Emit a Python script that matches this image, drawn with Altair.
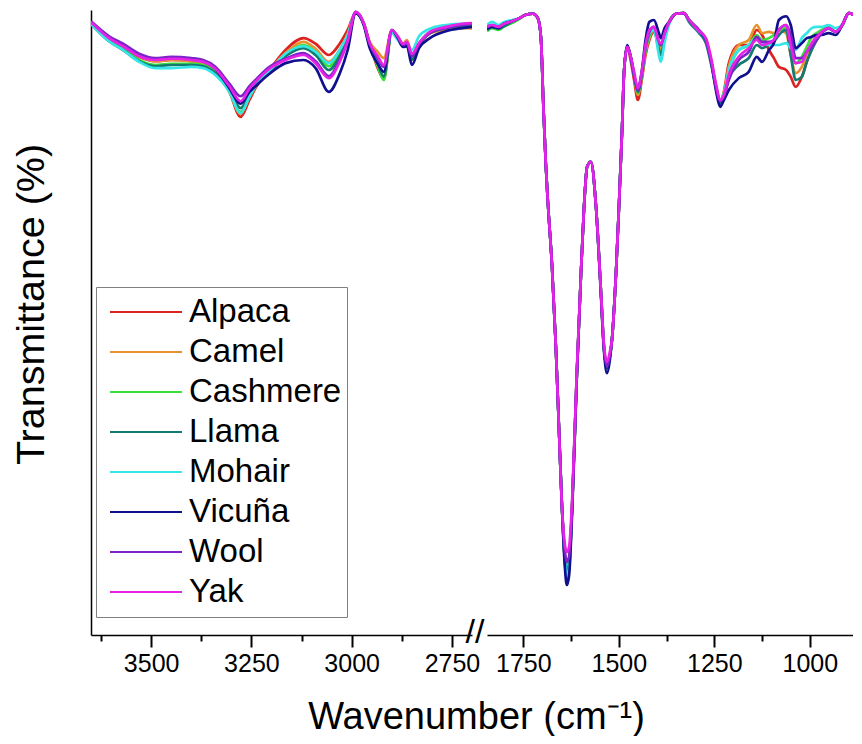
import altair as alt
import pandas as pd

FONT = "Liberation Sans"

SERIES = ["Alpaca", "Camel", "Cashmere", "Llama", "Mohair", "Vicuña", "Wool", "Yak"]
COLORS = ["#dd2222", "#e8922e", "#3adf3a", "#137a70", "#35e6e6", "#10108f", "#7d24c8", "#e622e6"]

# wavenumbers (cm-1), high-wavenumber segment
WN_HIGH = [3650, 3605, 3570, 3530, 3490, 3450, 3400, 3370, 3340, 3305, 3277, 3255, 3240, 3205,
           3165, 3120, 3090, 3057, 3030, 3010, 2990, 2970, 2955, 2935, 2920, 2900, 2885, 2872,
           2862, 2850, 2832, 2805, 2765, 2725, 2700]

ALPACA_HIGH = [97.9, 95.4, 94.1, 92.5, 91.8, 92.0, 91.8, 91.5, 90.4, 86.9, 82.9, 85.6, 87.5, 90.4,
               93.6, 95.5, 94.6, 92.8, 94.6, 96.8, 99.5, 97.8, 94.6, 90.7, 89.0, 96.5, 95.5, 94.2,
               94.6, 92.3, 94.6, 96.3, 97.1, 97.3, 97.1]
CAMEL_HIGH = [97.9, 95.4, 94.2, 92.6, 91.8, 92.0, 91.8, 91.5, 90.4, 87.0, 83.4, 86.1, 87.8, 90.4,
              93.1, 94.9, 93.8, 91.7, 93.6, 96.2, 99.5, 97.9, 94.9, 93.3, 92.3, 96.6, 95.7, 94.6,
              95.2, 93.0, 94.4, 96.3, 96.8, 97.1, 97.1]
CASHMERE_HIGH = [97.8, 95.2, 93.8, 92.0, 91.2, 91.4, 91.4, 91.2, 90.1, 87.0, 83.7, 86.2, 87.8, 90.2,
                 92.8, 94.4, 93.3, 91.0, 93.1, 95.8, 99.5, 97.8, 94.4, 91.0, 88.8, 96.5, 95.5, 94.2,
                 94.4, 92.3, 94.6, 96.5, 97.3, 97.4, 97.6]
LLAMA_HIGH = [97.8, 95.0, 93.6, 91.8, 91.0, 91.2, 91.2, 91.0, 89.9, 87.2, 84.3, 86.6, 88.0, 90.1,
              92.6, 93.9, 92.8, 90.4, 92.6, 95.5, 99.5, 97.8, 94.4, 91.4, 89.4, 96.6, 95.5, 94.2,
              94.4, 92.0, 94.4, 96.3, 97.1, 97.4, 97.6]
MOHAIR_HIGH = [97.8, 95.0, 93.6, 91.7, 90.7, 90.7, 90.9, 90.7, 89.6, 86.9, 83.5, 86.1, 87.8, 90.2,
               93.0, 94.2, 93.3, 91.5, 93.6, 96.0, 99.5, 97.8, 94.2, 92.0, 91.0, 96.3, 95.2, 94.4,
               94.6, 93.6, 95.8, 97.0, 97.6, 97.8, 97.8]
VICUNA_HIGH = [98.1, 95.7, 94.4, 92.8, 92.2, 92.3, 92.2, 91.8, 90.6, 87.5, 85.0, 86.9, 87.8, 89.8,
               91.5, 92.0, 90.7, 86.9, 89.8, 93.6, 99.5, 97.6, 93.9, 91.4, 90.1, 96.8, 95.5, 94.1,
               94.2, 91.2, 93.9, 95.5, 96.6, 97.1, 97.3]
WOOL_HIGH = [98.2, 95.8, 94.6, 93.0, 92.3, 92.5, 92.3, 92.0, 90.9, 88.2, 86.2, 87.8, 88.8, 90.9,
             92.2, 93.1, 91.8, 89.4, 92.0, 95.2, 99.7, 97.9, 94.6, 92.3, 90.9, 96.8, 95.7, 94.4,
             94.7, 92.6, 94.6, 96.3, 97.1, 97.6, 97.8]
YAK_HIGH = [98.1, 95.5, 94.2, 92.6, 92.0, 92.2, 92.0, 91.7, 90.6, 87.8, 85.4, 87.4, 88.5, 90.6,
            92.0, 92.8, 91.5, 89.1, 91.7, 95.0, 99.7, 97.9, 94.7, 92.6, 91.2, 96.8, 95.8, 94.6,
            94.9, 93.0, 94.7, 96.5, 97.3, 97.8, 97.9]

# wavenumbers (cm-1), fingerprint segment
WN_LOW = [1845, 1832, 1815, 1800, 1780, 1760, 1745, 1725, 1712, 1704,
          1697, 1691, 1686, 1675, 1665, 1657, 1649, 1641, 1636, 1630,
          1622, 1610, 1599, 1591, 1583, 1573, 1560, 1547, 1539, 1531,
          1523, 1518, 1507, 1500, 1492, 1486, 1478, 1470, 1460, 1450,
          1440, 1430, 1420, 1408, 1395, 1390, 1380, 1368, 1350, 1330,
          1316, 1290, 1272, 1259, 1245, 1235, 1225, 1212, 1186, 1160,
          1139, 1125, 1107, 1094, 1081, 1062, 1050, 1037, 1021, 1008,
          995, 982, 969, 951, 932, 915, 898, 885, 867]

ALPACA_LOW = [97.1, 97.4, 97.1, 97.8, 98.2, 98.7, 99.2, 99.4, 98.7, 95.7,
              84.0, 75.2, 69.6, 59.2, 46.4, 33.6, 20.8, 11.7, 9.1, 10.7,
              20.8, 41.6, 57.9, 68.5, 74.9, 75.7, 68.8, 55.2, 46.1, 42.9,
              44.8, 47.2, 58.4, 68.0, 80.0, 90.4, 94.1, 92.3, 88.8, 85.6,
              88.8, 92.8, 95.2, 96.5, 94.4, 93.9, 96.0, 98.1, 99.4, 99.5,
              98.4, 96.6, 95.2, 92.0, 87.5, 85.3, 86.9, 91.5, 94.4, 94.4,
              96.8, 96.0, 93.6, 92.3, 90.9, 90.4, 89.3, 87.7, 89.3, 91.7,
              94.1, 95.7, 96.5, 97.1, 96.5, 97.6, 99.5, 99.2, 98.1]
CAMEL_LOW = [97.1, 97.4, 97.1, 97.8, 98.2, 98.7, 99.2, 99.4, 98.7, 95.7,
             84.0, 75.2, 69.6, 59.2, 46.4, 33.6, 20.8, 12.0, 9.9, 11.2,
             20.8, 41.6, 57.9, 68.5, 74.9, 75.7, 68.8, 55.2, 46.1, 42.9,
             44.8, 47.2, 58.4, 68.0, 80.0, 90.4, 94.1, 92.8, 89.6, 86.4,
             89.3, 93.3, 95.5, 96.8, 94.4, 93.6, 95.8, 98.1, 99.4, 99.5,
             98.4, 96.6, 95.2, 92.0, 87.5, 85.3, 86.7, 90.9, 94.4, 95.2,
             97.6, 96.3, 96.5, 96.3, 96.8, 96.3, 92.8, 89.9, 90.9, 92.8,
             94.7, 95.7, 96.5, 97.1, 96.5, 97.6, 99.5, 99.2, 98.1]
CASHMERE_LOW = [96.6, 97.1, 96.8, 97.4, 97.9, 98.6, 99.2, 99.4, 98.7, 95.7,
                84.0, 75.2, 69.6, 59.2, 46.4, 33.6, 20.8, 12.6, 11.0, 12.0,
                20.8, 41.6, 57.9, 68.5, 74.9, 75.7, 68.8, 55.2, 46.1, 42.9,
                44.8, 47.2, 58.4, 68.0, 80.0, 90.4, 94.1, 92.8, 89.6, 86.7,
                89.4, 93.6, 95.8, 96.8, 93.6, 92.8, 95.5, 98.1, 99.4, 99.5,
                98.4, 96.6, 95.2, 92.0, 87.5, 85.4, 86.6, 90.1, 93.6, 94.4,
                96.0, 95.2, 95.5, 96.0, 96.8, 97.1, 93.6, 91.5, 92.5, 94.1,
                95.7, 96.3, 96.8, 97.3, 96.5, 97.6, 99.5, 99.2, 98.1]
LLAMA_LOW = [96.8, 97.3, 97.0, 97.4, 98.1, 98.7, 99.2, 99.4, 98.7, 95.7,
             84.0, 75.2, 69.6, 59.2, 46.4, 33.6, 20.8, 12.0, 10.1, 11.2,
             20.8, 41.6, 57.9, 68.5, 74.9, 75.7, 68.8, 55.2, 46.1, 42.7,
             44.8, 47.2, 58.4, 68.0, 80.0, 90.4, 94.1, 92.8, 89.6, 86.9,
             89.6, 93.9, 96.2, 97.0, 93.6, 92.8, 95.5, 98.1, 99.4, 99.5,
             98.1, 96.3, 94.7, 91.5, 87.5, 85.1, 86.1, 89.1, 91.2, 92.3,
             94.4, 93.9, 94.4, 94.9, 96.0, 96.8, 92.8, 88.8, 89.3, 91.7,
             93.6, 95.2, 96.3, 97.1, 96.5, 97.6, 99.5, 99.2, 98.1]
MOHAIR_LOW = [97.6, 98.1, 97.6, 98.1, 98.4, 98.7, 99.2, 99.4, 98.7, 95.7,
              84.0, 75.2, 69.6, 59.2, 46.4, 33.6, 20.8, 11.7, 9.4, 10.7,
              20.8, 41.6, 57.9, 68.5, 74.9, 75.7, 68.8, 55.2, 46.1, 43.0,
              44.8, 47.2, 58.4, 68.0, 80.0, 90.4, 94.1, 92.8, 89.6, 87.2,
              89.8, 94.1, 96.3, 96.8, 92.8, 91.7, 94.9, 97.8, 99.4, 99.5,
              98.4, 96.5, 95.2, 92.0, 87.5, 85.6, 86.6, 90.4, 93.6, 94.4,
              95.5, 94.9, 94.4, 94.4, 94.4, 94.7, 93.9, 93.6, 95.5, 96.3,
              97.1, 97.3, 97.3, 97.6, 97.1, 97.6, 99.5, 99.2, 98.1]
VICUNA_LOW = [97.0, 97.3, 97.1, 97.8, 98.2, 98.7, 99.2, 99.4, 98.7, 95.7,
              84.0, 75.2, 69.6, 59.2, 46.4, 33.6, 20.8, 10.7, 8.0, 9.6,
              20.0, 41.0, 57.9, 68.5, 74.9, 75.7, 68.8, 54.6, 45.6, 41.9,
              44.2, 47.2, 58.4, 68.0, 80.0, 90.4, 94.4, 92.8, 89.6, 87.2,
              90.1, 95.2, 98.1, 98.4, 96.3, 95.5, 97.1, 98.1, 99.4, 99.5,
              98.4, 96.6, 95.2, 92.0, 86.9, 84.5, 85.6, 87.2, 89.1, 90.1,
              92.5, 91.7, 93.6, 94.7, 98.4, 99.0, 97.6, 93.9, 94.7, 95.5,
              95.7, 96.0, 96.0, 96.3, 96.0, 97.6, 99.5, 99.2, 98.1]
WOOL_LOW = [97.3, 97.6, 97.3, 97.8, 98.2, 98.7, 99.2, 99.4, 98.7, 95.7,
            84.0, 75.2, 69.6, 59.2, 46.4, 33.6, 20.8, 13.3, 11.7, 12.6,
            20.8, 41.6, 57.9, 68.5, 74.9, 75.7, 68.8, 55.2, 46.1, 43.0,
            44.8, 47.2, 58.4, 68.0, 80.0, 90.4, 94.1, 92.8, 89.6, 87.2,
            89.9, 94.1, 96.5, 97.3, 94.9, 94.4, 96.3, 98.1, 99.4, 99.5,
            98.4, 96.8, 95.2, 92.0, 87.5, 85.4, 86.2, 88.8, 92.0, 93.3,
            95.7, 94.9, 94.9, 95.2, 96.8, 97.6, 96.0, 92.3, 92.3, 93.3,
            94.1, 95.2, 96.3, 97.0, 96.5, 97.6, 99.5, 99.2, 98.1]
YAK_LOW = [97.3, 97.6, 97.3, 97.8, 98.2, 98.7, 99.2, 99.4, 98.7, 95.7,
           84.0, 75.2, 69.6, 59.2, 46.4, 33.6, 20.8, 14.4, 13.3, 14.1,
           21.9, 42.2, 57.9, 68.5, 74.9, 75.7, 68.8, 55.2, 46.6, 43.7,
           45.4, 47.2, 58.4, 68.0, 80.0, 90.4, 94.1, 92.8, 90.1, 87.5,
           90.1, 94.4, 96.8, 97.3, 94.9, 94.6, 96.3, 98.1, 99.4, 99.5,
           98.4, 96.6, 95.5, 92.5, 88.0, 85.6, 86.4, 89.6, 92.5, 93.9,
           95.2, 94.4, 94.7, 95.2, 96.8, 97.6, 94.4, 91.5, 91.7, 93.3,
           94.7, 95.7, 96.5, 97.1, 96.5, 97.6, 99.5, 99.2, 98.1]

TICKS_HIGH = [3625, 3500, 3375, 3250, 3125, 3000, 2875, 2750]
TICKS_LOW = [1750, 1625, 1500, 1375, 1250, 1125, 1000, 875]

HIGH = [ALPACA_HIGH, CAMEL_HIGH, CASHMERE_HIGH, LLAMA_HIGH, MOHAIR_HIGH, VICUNA_HIGH, WOOL_HIGH, YAK_HIGH]
LOW = [ALPACA_LOW, CAMEL_LOW, CASHMERE_LOW, LLAMA_LOW, MOHAIR_LOW, VICUNA_LOW, WOOL_LOW, YAK_LOW]


def frame(wns, blocks):
    rows = []
    for name, vals in zip(SERIES, blocks):
        for w, t in zip(wns, vals):
            rows.append({"fiber": name, "wn": w, "T": t})
    return pd.DataFrame(rows)


df_high = frame(WN_HIGH, HIGH)
df_low = frame(WN_LOW, LOW)

H = 625
W_HIGH = 381
W_LOW = 366

color = alt.Color(
    "fiber:N",
    scale=alt.Scale(domain=SERIES, range=COLORS),
    legend=alt.Legend(
        orient="none", legendX=5, legendY=277, title=None,
        symbolType="stroke", symbolSize=5184, symbolStrokeWidth=2,
        clipHeight=40, rowPadding=0, labelFontSize=33, labelFont=FONT,
        labelColor="black", labelOffset=6, padding=5, symbolOffset=8,
        strokeColor="#808080", fillColor="white", labelLimit=400,
    ),
)

tick_size = {"condition": {"test": "datum.value % 250 === 0", "value": 12}, "value": 6}
label_expr = "datum.value % 250 === 0 ? format(datum.value, 'd') : ''"

x_axis_common = dict(
    format="d", labelExpr=label_expr, labelFont=FONT, labelFontSize=25, labelColor="black",
    labelPadding=4, labelOverlap=False, labelFlush=False, tickSize=tick_size,
    tickColor="black", tickWidth=2, domainColor="black", domainWidth=1.5, grid=False,
    titleFont=FONT, titleFontSize=38, titleFontWeight="normal", titleColor="black",
)

y_enc_high = alt.Y(
    "T:Q", scale=alt.Scale(domain=[0, 100], nice=False, zero=False),
    axis=alt.Axis(title="Transmittance (%)", labels=False, ticks=False, grid=False,
                  domainColor="black", domainWidth=1.5, titleFont=FONT, titleFontSize=39.5,
                  titleFontWeight="normal", titleColor="black", titlePadding=40, titleY=294),
)
y_enc_low = alt.Y("T:Q", scale=alt.Scale(domain=[0, 100], nice=False, zero=False), axis=None)

lines_high = alt.Chart(df_high).mark_line(strokeWidth=2.7, interpolate="monotone", clip=True).encode(
    x=alt.X("wn:Q", scale=alt.Scale(domain=[3650, 2700], nice=False, zero=False),
            axis=alt.Axis(values=TICKS_HIGH, title="Wavenumber (cm⁻¹)", titleX=385, titlePadding=22,
                          **x_axis_common)),
    y=y_enc_high,
    color=color,
    order=alt.Order("wn:Q", sort="descending"),
)

brk = alt.Chart(pd.DataFrame({"wn": [2700], "s": ["//"]})).mark_text(
    fontSize=34, font=FONT, dx=3, baseline="middle", align="center", color="black"
).encode(x="wn:Q", y=alt.value(H - 2), text="s:N")

left = alt.layer(lines_high, brk).properties(width=W_HIGH, height=H)

right = alt.Chart(df_low).mark_line(strokeWidth=2.7, interpolate="monotone", clip=True).encode(
    x=alt.X("wn:Q", scale=alt.Scale(domain=[1845, 887], nice=False, zero=False),
            axis=alt.Axis(values=TICKS_LOW, title=None, **x_axis_common)),
    y=y_enc_low,
    color=color,
    order=alt.Order("wn:Q", sort="descending"),
).properties(width=W_LOW, height=H)

chart = alt.hconcat(left, right, spacing=15, bounds="flush").properties(
    padding={"left": 3, "top": 2, "right": 0, "bottom": 0}
).configure(background="white").configure_view(strokeWidth=0, stroke="transparent")

chart.save("out.html", embed_options={"renderer": "svg", "actions": False})
